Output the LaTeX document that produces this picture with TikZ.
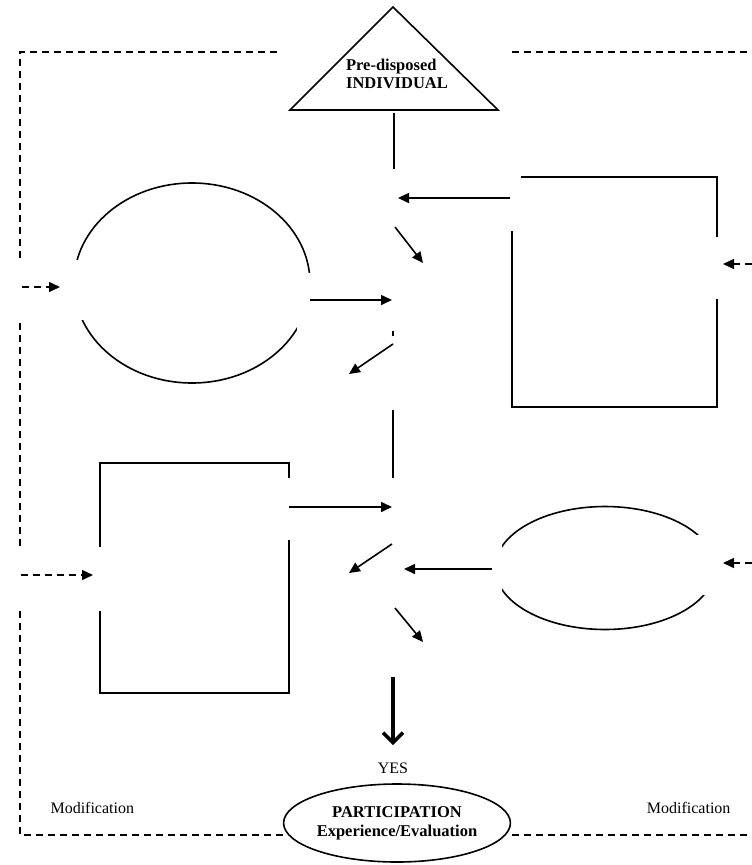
\documentclass[tikz,border=0pt]{standalone}
\usepackage{fontspec}
\setmainfont{Liberation Serif}
\usetikzlibrary{shapes.geometric,arrows.meta}

\begin{document}
\begin{tikzpicture}[x=1pt, y=-1pt,
    frame/.style={line width=1.5pt, dash pattern=on 7pt off 5pt},
    outline/.style={draw, line width=1.6pt, inner sep=0pt},
    conn/.style={line width=1.6pt, -{Triangle[length=11pt,width=10pt]}},
    feed/.style={frame, -{Triangle[length=11pt,width=10pt]}},
    every node/.style={font=\fontsize{16}{18}\selectfont}]
    \useasboundingbox (0,0) rectangle (752,865);

    % Modification loop
    \draw[frame] (277,52) -- (20,52) -- (20,835) -- (283,835);
    \draw[frame] (512,52) -- (752,52);
    \draw[frame] (512,835) -- (752,835);

    % Pre-disposed individual
    \coordinate (tri-l) at (290,110);
    \coordinate (tri-t) at (393,7);
    \coordinate (tri-r) at (498,110);
    \draw[line width=1.6pt] (tri-l) -- (tri-t) -- (tri-r) -- cycle;
    \node[align=left, font=\fontsize{16.5}{18}\selectfont\bfseries] (indiv) at (397,74) {Pre-disposed\\INDIVIDUAL};

    % the four factor shapes
    \node[outline, ellipse, minimum width=236pt, minimum height=200pt] (ell-a) at (192,283) {};
    \node[outline, rectangle, minimum width=205pt, minimum height=230pt] (box-a) at (614.5,292) {};
    \node[outline, rectangle, minimum width=189pt, minimum height=230pt] (box-b) at (194.5,578) {};
    \node[outline, ellipse, minimum width=220pt, minimum height=123pt] (ell-b) at (605,568) {};

    % blanks where the text boxes sat
    \foreach \xa/\ya/\xb/\yb in {14/260/88/320, 297/273/330/332, 500/168/521/231, 709/237/730/299,
                                 14/547/106/611, 282/478/297/540, 485/543/502/595, 693/535/730/595}
        \fill[white] (\xa,\ya) rectangle (\xb,\yb);

    % flow through the middle
    \draw[line width=1.6pt] (394,113) -- (394,169);
    \draw[line width=1.6pt] (393,331) -- (393,336);
    \draw[line width=1.6pt] (393,410) -- (393,478);
    \foreach \n/\x/\y in {s1/510/198, e1/398/198, s2/395/227, e2/423/263, s3/310/300, e3/392/300,
                          s4/393/344, e4/349/374, s5/289/507, e5/392/507, s6/392/544, e6/349/573,
                          s7/492/569, e7/404/569, s8/395/608, e8/423/642}
        \coordinate (\n) at (\x,\y);
    \foreach \i in {1,...,8}
        \draw[conn] (s\i) -- (e\i);

    % feedback arrows (dashed)
    \foreach \i/\xa/\xb/\y in {1/22/60/287, 2/21/93/575, 3/752/723/264, 4/752/723/563} {
        \coordinate (fb\i-s) at (\xa,\y);
        \coordinate (fb\i-e) at (\xb,\y);
        \draw[feed] (fb\i-s) -- (fb\i-e);
    }

    % decision
    \coordinate (yes-s) at (393,677);
    \node (yes) at (393,768) {YES};
    \draw[line width=3.5pt, -{Straight Barb[length=10pt,width=20pt]}] (yes-s) -- (393,745);
    \node[outline, ellipse, minimum width=220pt, minimum height=78pt, align=center,
          font=\fontsize{16.5}{19}\selectfont\bfseries] (partic) at (397,823) {PARTICIPATION\\Experience/Evaluation};
    \node[anchor=west] (mod-l) at (47,808) {Modification};
    \node[anchor=east] (mod-r) at (734,808) {Modification};
\end{tikzpicture}
\end{document}
